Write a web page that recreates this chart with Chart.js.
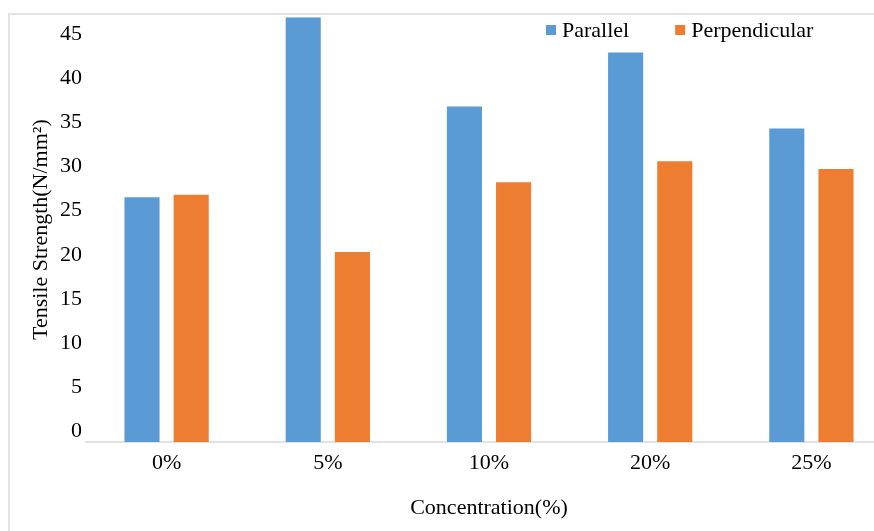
<!DOCTYPE html>
<html>
<head>
<meta charset="utf-8">
<title>Tensile Strength vs Concentration</title>
<script src="https://cdn.jsdelivr.net/npm/chart.js@4.4.1/dist/chart.umd.min.js"></script>
<style>
  html, body { margin: 0; padding: 0; background: #ffffff; }
  #wrap { position: relative; width: 874px; height: 531px; overflow: hidden; background: #ffffff; }
  #chart { position: absolute; left: 0; top: 0; }
  #frame {
    position: absolute; left: 8px; top: 13px; right: -10px; bottom: -10px;
    border-left: 2px solid #e4e4e4; border-top: 2px solid #e4e4e4;
    pointer-events: none;
  }
</style>
</head>
<body>
<div id="wrap">
  <canvas id="chart" width="892" height="531"></canvas>
  <div id="frame"></div>
</div>
<script>
// Concentration levels on the x axis
const categories = ['0%', '5%', '10%', '20%', '25%'];

// Tensile strength (N/mm²) for each fibre orientation
const parallel      = [26.5, 46.9, 36.8, 42.9, 34.3];
const perpendicular = [26.8, 20.3, 28.2, 30.6, 29.7];

// Value axis range and the tick values shown on it
const yMin = -1.2;
const yMax = 46.9;
const yTicks = [0, 5, 10, 15, 20, 25, 30, 35, 40, 45];

const FONT = '"Liberation Serif", "Times New Roman", serif';
const BLUE = '#5B9BD5';
const ORANGE = '#ED7D31';

// Legend drawn inside the plot, at its top right
const insideLegend = {
  id: 'insideLegend',
  afterDraw(chart) {
    const ctx = chart.ctx;
    ctx.save();
    ctx.font = '22px ' + FONT;
    ctx.textBaseline = 'middle';
    ctx.textAlign = 'left';
    let x = 546;
    const cy = 30;
    chart.data.datasets.forEach(ds => {
      ctx.fillStyle = ds.backgroundColor;
      ctx.fillRect(x, cy - 5, 10, 10);
      ctx.fillStyle = '#000000';
      ctx.fillText(ds.label, x + 16, cy + 1);
      x += 16 + ctx.measureText(ds.label).width + 46;
    });
    ctx.restore();
  }
};

new Chart(document.getElementById('chart'), {
  type: 'bar',
  data: {
    labels: categories,
    datasets: [
      { label: 'Parallel', data: parallel, backgroundColor: BLUE, base: yMin,
        categoryPercentage: 0.61, barPercentage: 0.714 },
      { label: 'Perpendicular', data: perpendicular, backgroundColor: ORANGE, base: yMin,
        categoryPercentage: 0.61, barPercentage: 0.714 }
    ]
  },
  options: {
    responsive: false,
    devicePixelRatio: 1,
    animation: false,
    layout: { padding: { left: 0, right: 0, top: 16, bottom: 0 } },
    plugins: {
      legend: { display: false },
      tooltip: { enabled: false }
    },
    scales: {
      x: {
        grid: { display: false, drawTicks: false },
        border: { display: true, color: '#e2e2e2', width: 2 },
        ticks: { color: '#000000', font: { family: FONT, size: 22 }, padding: 8, maxRotation: 0 },
        title: {
          display: true, text: 'Concentration(%)', color: '#000000',
          font: { family: FONT, size: 22 }, padding: { top: 0, bottom: 10 }
        },
        afterFit(scale) { scale.height = 89; }
      },
      y: {
        min: yMin,
        max: yMax,
        grid: { display: false, drawTicks: false },
        border: { display: false },
        ticks: { color: '#000000', font: { family: FONT, size: 22 }, padding: 4 },
        afterBuildTicks(scale) { scale.ticks = yTicks.map(v => ({ value: v })); },
        title: {
          display: true, text: 'Tensile Strength(N/mm²)', color: '#000000',
          font: { family: FONT, size: 22 }, padding: { top: 28, bottom: 0 }
        },
        afterFit(scale) { scale.width = 86; }
      }
    }
  },
  plugins: [insideLegend]
});
</script>
</body>
</html>
